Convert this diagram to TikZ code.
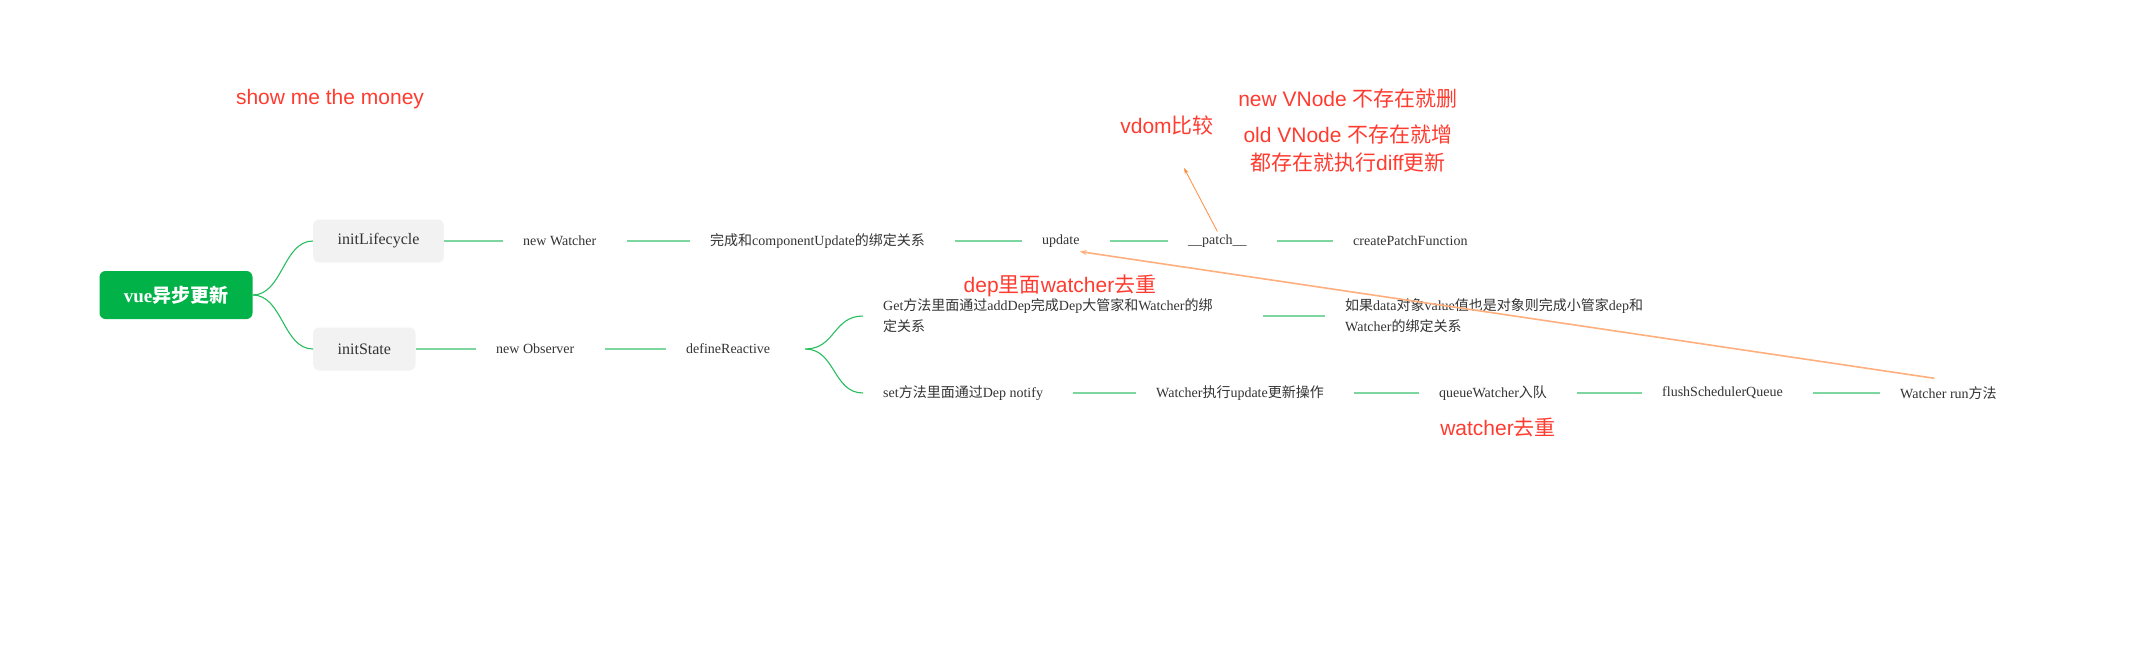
\documentclass[tikz,border=0pt]{standalone}
\usepackage{fontspec}
\setmainfont{Liberation Serif}
\newfontfamily\cjk{Noto Sans CJK SC}
\newfontfamily\helv{Liberation Sans}
\usetikzlibrary{arrows.meta,positioning,calc}
\newcommand{\zh}[1]{{\cjk #1}}
\definecolor{rootgreen}{RGB}{0,178,72}
\definecolor{linkgreen}{RGB}{125,214,160}
\definecolor{curvegreen}{RGB}{40,190,95}
\definecolor{boxgray}{RGB}{242,242,242}
\definecolor{textgray}{RGB}{51,51,51}
\definecolor{notered}{RGB}{255,59,48}
\definecolor{arroworange}{RGB}{255,140,60}
\definecolor{lineorange}{RGB}{255,175,125}
\tikzset{
    rootnode/.style={rounded corners=6pt, fill=rootgreen, text=white,
        font=\fontsize{19}{19}\selectfont\bfseries,
        minimum width=153pt, minimum height=48pt, inner sep=0pt},
    subnode/.style={rounded corners=6pt, fill=boxgray, text=textgray,
        font=\fontsize{16}{16}\selectfont,
        minimum height=43pt, inner xsep=24.5pt, anchor=west},
    leaf/.style={text=textgray, font=\fontsize{14}{21}\selectfont,
        inner sep=0pt, anchor=west},
    note/.style={text=notered, font=\helv\fontsize{21}{21}\selectfont, inner sep=0pt},
    link/.style={linkgreen, line width=1.6pt, shorten <=30pt, shorten >=20pt},
    branch/.style={curvegreen, line width=1.1pt}
}
\begin{document}
\begin{tikzpicture}[x=1pt,y=-1pt]
        \useasboundingbox (0,0) rectangle (2154,670);

        % Root and first level
        \node[rootnode] (root) at (176,295) {vue\zh{异步更新}};
        \node[subnode] (life) at (313,241) {initLifecycle};
        \node[subnode] (state) at (313,349) {initState};

        \draw[branch] (root.east) .. controls +(30,0) and +(-30,0) .. (life.west);
        \draw[branch] (root.east) .. controls +(30,0) and +(-30,0) .. (state.west);

        % initLifecycle row
        \foreach \name/\x/\txt in {watcher/523/{new Watcher},
            bind/710/{\zh{完成和}componentUpdate\zh{的绑定关系}},
            update/1042/{update},
            patch/1188/{\_\_patch\_\_},
            cpf/1353/{createPatchFunction}}
        {
            \node[leaf] (\name) at (\x,241) {\txt};
        }
        \draw[link, shorten <=0pt] (life) -- (watcher);
        \foreach \a/\b in {watcher/bind, bind/update, update/patch, patch/cpf}
        {
            \draw[link] (\a) -- (\b);
        }

        % initState row
        \node[leaf] (observer) at (496,349) {new Observer};
        \node[leaf] (reactive) at (686,349) {defineReactive};
        \draw[link, shorten <=0pt] (state) -- (observer);
        \draw[link] (observer) -- (reactive);

        % defineReactive branches
        \node[leaf, align=left, text width=350pt] (get) at (883,316)
            {Get\zh{方法里面通过}addDep\zh{完成}Dep\zh{大管家和}Watcher\zh{的绑}\\\zh{定关系}};
        \node[leaf, align=left] (child) at (1345,316)
            {\zh{如果}data\zh{对象}value\zh{值也是对象则完成小管家}dep\zh{和}\\Watcher\zh{的绑定关系}};
        \draw[link] (get) -- (child);

        \foreach \name/\x/\txt in {set/883/{set\zh{方法里面通过}Dep notify},
            exec/1156/{Watcher\zh{执行}update\zh{更新操作}},
            queue/1439/{queueWatcher\zh{入队}},
            flush/1662/{flushSchedulerQueue},
            run/1900/{Watcher run\zh{方法}}}
        {
            \node[leaf] (\name) at (\x,393) {\txt};
        }
        \foreach \a/\b in {set/exec, exec/queue, queue/flush, flush/run}
        {
            \draw[link] (\a) -- (\b);
        }

        \coordinate (fork) at ([xshift=35pt]reactive.east);
        \draw[branch] (fork) .. controls +(30,0) and +(-30,0) .. ([xshift=-20pt]get.west);
        \draw[branch] (fork) .. controls +(30,0) and +(-30,0) .. ([xshift=-20pt]set.west);

        % Notes
        \node[note] (money) at (330,99) {show me the money};
        \node[note] (vdom) at (1167,125) {vdom\zh{比较}};
        \node[note] (del) at (1348,99) {new VNode \zh{不存在就删}};
        \node[note] (add) at (1348,135) {old VNode \zh{不存在就增}};
        \node[note] (diff) at (1348,163) {\zh{都存在就执行}diff\zh{更新}};
        \node[note] (depdedup) at (1060,286) {dep\zh{里面}watcher\zh{去重}};
        \node[note] (dedup) at (1498,427) {watcher\zh{去重}};

        % Arrows
        \coordinate (vdomtip) at (1184,168);
        \draw[-{Stealth[length=6pt,width=4pt]}, arroworange, line width=0.8pt]
            ([yshift=3pt]patch.north) -- (vdomtip);
        \draw[-{Stealth[length=7pt,width=5pt]}, lineorange, line width=1.6pt]
            ([xshift=-14pt,yshift=8pt]run.north) -- ([yshift=-4pt]update.south east);

\end{tikzpicture}
\end{document}
